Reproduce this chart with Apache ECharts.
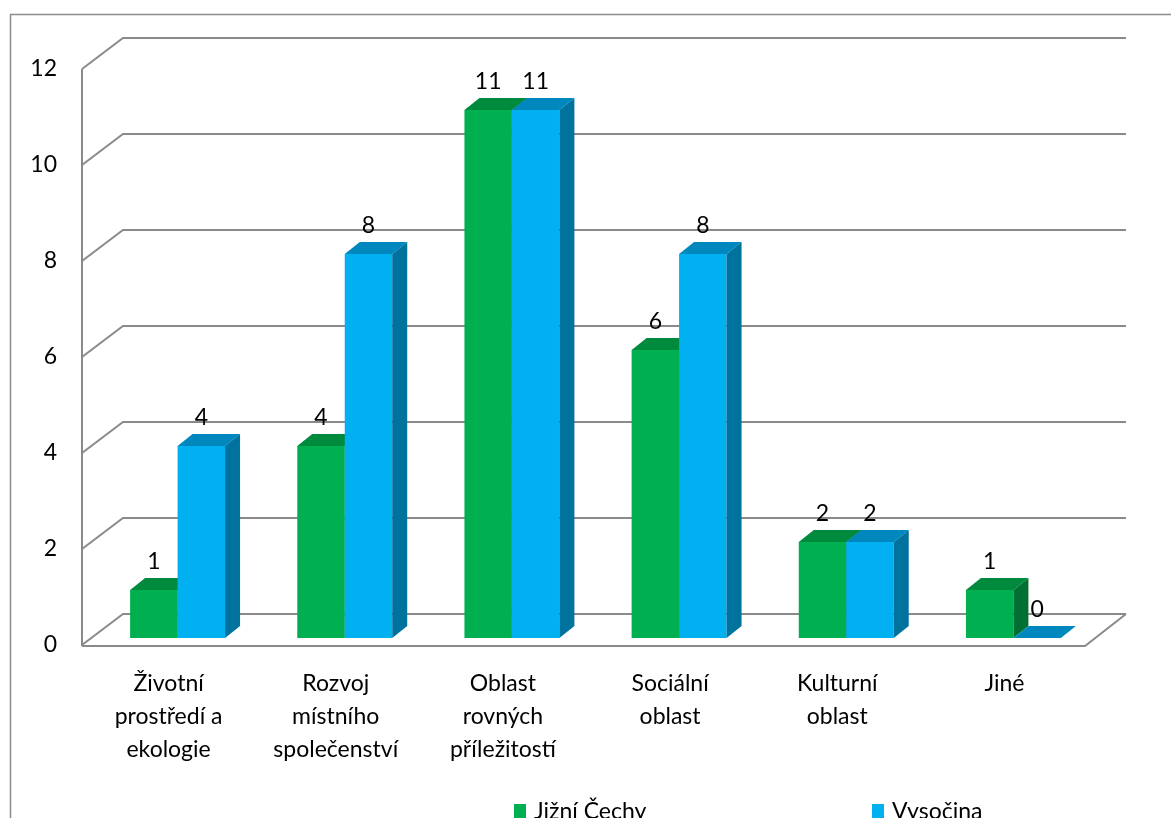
<!DOCTYPE html>
<html>
<head>
<meta charset="utf-8">
<script src="https://cdn.jsdelivr.net/npm/echarts@6/dist/echarts.min.js"></script>
<style>
html,body{margin:0;padding:0;background:#fff;}
#c{width:1171px;height:818px;}
</style>
</head>
<body>
<div id="c"></div>
<script>
const categories = ['Životní\nprostředí a\nekologie', 'Rozvoj\nmístního\nspolečenství', 'Oblast\nrovných\npříležitostí', 'Sociální\noblast', 'Kulturní\noblast', 'Jiné'];
const seriesNames = ['Jižní Čechy', 'Vysočina'];
const jizniCechy = [1, 4, 11, 6, 2, 1];
const vysocina = [4, 8, 11, 8, 2, 0];
const yTicks = [0, 2, 4, 6, 8, 10, 12];

const FONT = 'Lato, "Liberation Sans", sans-serif';
const FS = 23;
const GRID_COLOR = '#8a8a8a';
const DEPTH = [41, -31];     // back wall offset
const BAR_OFF = [12, -7];    // bar plane offset
const BAR_DEPTH = [15, -12]; // bar depth
const colors = [
  {front: '#00B050', top: '#008A3E', side: '#007032'},
  {front: '#00B0F0', top: '#0088BE', side: '#00729E'}
];

const chart = echarts.init(document.getElementById('c'), null, {renderer: 'canvas'});

function gridRender(params, api) {
  const cs = params.coordSys;
  const v = api.value(1);
  const y = api.coord([0, v])[1];
  const left = cs.x, right = cs.x + cs.width;
  const pts = [[left, y], [left + DEPTH[0], y + DEPTH[1]], [right + DEPTH[0], y + DEPTH[1]]];
  const children = [{
    type: 'polyline', shape: {points: pts},
    style: {stroke: GRID_COLOR, lineWidth: 2, fill: null}
  }];
  if (v === 0) {
    children.push({
      type: 'polyline',
      shape: {points: [[left, y + 1], [right, y + 1], [right + DEPTH[0], y + DEPTH[1]]]},
      style: {stroke: GRID_COLOR, lineWidth: 2, fill: null}
    });
    const yTop = api.coord([0, yTicks[yTicks.length - 1]])[1];
    children.push({
      type: 'line', shape: {x1: left, y1: y + 1, x2: left, y2: yTop},
      style: {stroke: GRID_COLOR, lineWidth: 2}
    });
  }
  return {type: 'group', children: children};
}

function barRender(sideIdx) {
  return function (params, api) {
    const idx = api.value(0), v = api.value(1);
    const c = api.coord([idx, v]);
    const c0 = api.coord([idx, 0]);
    const catW = api.size([1, 0])[0];
    const bw = catW * 0.284;
    const cx = c[0] + BAR_OFF[0];
    const xl = sideIdx === 0 ? cx - bw : cx;
    const xr = xl + bw;
    const top = c[1] + BAR_OFF[1];
    const bot = c0[1] + BAR_OFF[1];
    const col = colors[sideIdx];
    const dx = BAR_DEPTH[0], dy = BAR_DEPTH[1];
    return {
      type: 'group',
      children: [
        {type: 'rect', shape: {x: xl, y: top, width: bw, height: Math.max(0, bot - top)}, style: {fill: col.front}},
        {type: 'polygon', shape: {points: [[xl, top], [xl + dx, top + dy], [xr + dx, top + dy], [xr, top]]}, style: {fill: col.top}},
        {type: 'polygon', shape: {points: [[xr, top], [xr + dx, top + dy], [xr + dx, bot + dy], [xr, bot]]}, style: {fill: col.side}},
        {type: 'text', style: {text: String(v), x: (xl + xr) / 2, y: top - 28, align: 'center', verticalAlign: 'middle', fontSize: FS, fontFamily: FONT, fill: '#000'}}
      ]
    };
  };
}

const option = {
  backgroundColor: '#fff',
  animation: false,
  graphic: [{
    type: 'rect', z: 0, silent: true,
    shape: {x: 10.5, y: 14.5, width: 1300, height: 900},
    style: {fill: null, stroke: '#8c8c8c', lineWidth: 1.5}
  }],
  grid: {left: 82, right: 86, top: 69, bottom: 173, containLabel: false},
  xAxis: {
    type: 'category', data: categories, boundaryGap: true,
    axisLine: {show: false}, axisTick: {show: false},
    axisLabel: {interval: 0, margin: 22, fontSize: FS, lineHeight: 33, color: '#000', fontFamily: FONT, align: 'center', verticalAlign: 'top', padding: [0, 0, 0, 6]}
  },
  yAxis: {
    type: 'value', min: 0, max: 12, interval: 2,
    axisLine: {show: false}, axisTick: {show: false}, splitLine: {show: false},
    axisLabel: {fontSize: FS, color: '#000', fontFamily: FONT, margin: 25, padding: [7, 0, 0, 0]}
  },
  legend: [
    {data: [seriesNames[0]], left: 509, top: 795, icon: 'rect', itemWidth: 12, itemHeight: 15, textStyle: {fontSize: FS, fontFamily: FONT, color: '#000', padding: [0, 0, 0, 3]}},
    {data: [seriesNames[1]], left: 867, top: 795, icon: 'rect', itemWidth: 12, itemHeight: 15, textStyle: {fontSize: FS, fontFamily: FONT, color: '#000', padding: [0, 0, 0, 3]}}
  ],
  series: [
    {type: 'custom', name: 'grid3d', silent: true, z: 1, clip: false, renderItem: gridRender, data: yTicks.map(v => [0, v])},
    {type: 'custom', name: seriesNames[0], z: 2, clip: false, itemStyle: {color: colors[0].front}, renderItem: barRender(0), data: jizniCechy.map((v, i) => [i, v])},
    {type: 'custom', name: seriesNames[1], z: 3, clip: false, itemStyle: {color: colors[1].front}, renderItem: barRender(1), data: vysocina.map((v, i) => [i, v])}
  ]
};
chart.setOption(option);
</script>
</body>
</html>
